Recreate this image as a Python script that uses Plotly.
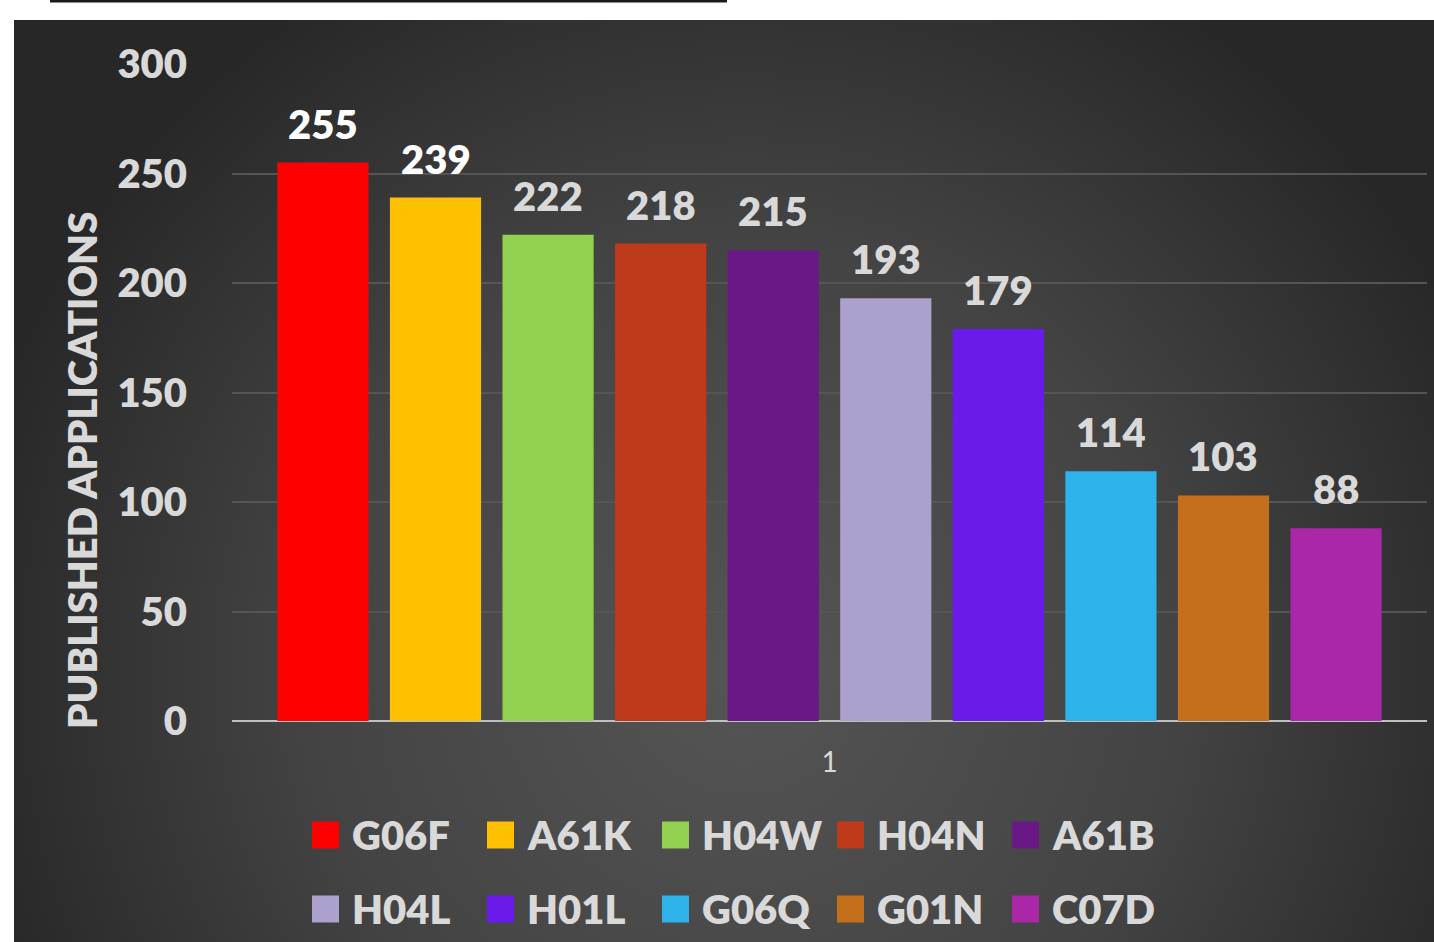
import base64
import plotly.graph_objects as go

categories = ["G06F", "A61K", "H04W", "H04N", "A61B", "H04L", "H01L", "G06Q", "G01N", "C07D"]
values = [255, 239, 222, 218, 215, 193, 179, 114, 103, 88]
colors = ["#FF0000", "#FFC000", "#92D050", "#BE3A1A", "#6A1886", "#ACA0CC", "#6A1BEA", "#2DB3EA", "#C46F19", "#AA27A8"]
label_colors = ["#FFFFFF", "#FFFFFF"] + ["#D9D9D9"] * 8
x_group = ["1"]
y_ticks = [0, 50, 100, 150, 200, 250, 300]

W, H = 1434, 942
L, R, T, B = 232, 7, 64, 221
PW, PH = W - L - R, H - T - B
BARGAP, GROUPGAP = 0.058, 0.19


def px(xp):
    return (xp - L) / PW


def py(yp):
    return (H - B - yp) / PH


FONT = "Lato"
WT = 800

fig = go.Figure()
n = len(categories)
slot = PW * (1 - BARGAP) / n
annotations = []
for i, (cat, val, col, lc) in enumerate(zip(categories, values, colors, label_colors)):
    fig.add_trace(go.Bar(
        x=x_group, y=[val], name=cat, marker=dict(color=col, line=dict(width=0)),
        showlegend=False, hoverinfo="name+y",
    ))
    # x=0 is the index of category "1" on the category axis
    annotations.append(dict(x=0, y=val, xref="x", yref="y", text=str(val), showarrow=False,
                            xanchor="center", yanchor="bottom", xshift=(i - (n - 1) / 2) * slot, yshift=13,
                            font=dict(family=FONT, size=40, color=lc, weight=WT)))

# background radial gradient
svg = (
    '<svg xmlns="http://www.w3.org/2000/svg" width="1420" height="922" viewBox="0 0 1420 922" preserveAspectRatio="none">'
    '<defs><radialGradient id="g" gradientUnits="userSpaceOnUse" cx="730" cy="650" r="800">'
    '<stop offset="0" stop-color="#555555"/><stop offset="0.55" stop-color="#434343"/>'
    '<stop offset="1" stop-color="#272727"/></radialGradient></defs>'
    '<rect width="1420" height="922" fill="url(#g)"/></svg>'
)
src = "data:image/svg+xml;base64," + base64.b64encode(svg.encode()).decode()

# top cropped bubble edge
shapes = [dict(type="rect", xref="paper", yref="paper", x0=px(50), x1=px(727), y0=py(2.5), y1=py(-6),
               fillcolor="#1a1a1a", line=dict(width=0), layer="above")]

# custom legend
for i, (cat, col) in enumerate(zip(categories, colors)):
    row, colm = divmod(i, 5)
    x0 = 312 + colm * 175
    yc = 835 + row * 74
    shapes.append(dict(type="rect", xref="paper", yref="paper", x0=px(x0), x1=px(x0 + 27),
                       y0=py(yc + 13.5), y1=py(yc - 13.5), fillcolor=col, line=dict(width=0)))
    annotations.append(dict(xref="paper", yref="paper", x=px(x0 + 38), y=py(yc), text=cat, showarrow=False,
                            xanchor="left", yanchor="middle",
                            font=dict(family=FONT, size=40, color="#D9D9D9", weight=WT)))

# y-axis title
annotations.append(dict(xref="paper", yref="paper", x=px(82), y=py(471), text="PUBLISHED APPLICATIONS",
                        textangle=-90, showarrow=False, xanchor="center", yanchor="middle",
                        font=dict(family=FONT, size=40, color="#D9D9D9", weight=WT)))

fig.update_layout(
    width=W, height=H,
    margin=dict(l=L, r=R, t=T, b=B, pad=0),
    paper_bgcolor="#FFFFFF", plot_bgcolor="rgba(0,0,0,0)",
    barmode="group", bargap=BARGAP, bargroupgap=GROUPGAP,
    showlegend=False,
    images=[dict(source=src, xref="paper", yref="paper", x=px(14), y=py(20), sizex=px(1434) - px(14),
                 sizey=py(20) - py(942), xanchor="left", yanchor="top", sizing="stretch", layer="below")],
    shapes=shapes, annotations=annotations,
    xaxis=dict(type="category", range=[-0.5, 0.5], autorange=False, showgrid=False, showline=False,
               zeroline=False, ticks="",
               tickfont=dict(family=FONT, size=28, color="#D9D9D9"), ticklabelstandoff=22),
    yaxis=dict(range=[0, 300], autorange=False, tickvals=y_ticks, showgrid=True, gridcolor="#555555",
               gridwidth=1.5, zeroline=True, zerolinecolor="#BFBFBF", zerolinewidth=2, showline=False,
               ticks="", tickfont=dict(family=FONT, size=40, color="#D9D9D9", weight=WT), ticklabelstandoff=44),
)

fig.write_html("out.html", config={"displayModeBar": False},
               post_script="document.body.style.margin='0';document.body.style.overflow='hidden';")
